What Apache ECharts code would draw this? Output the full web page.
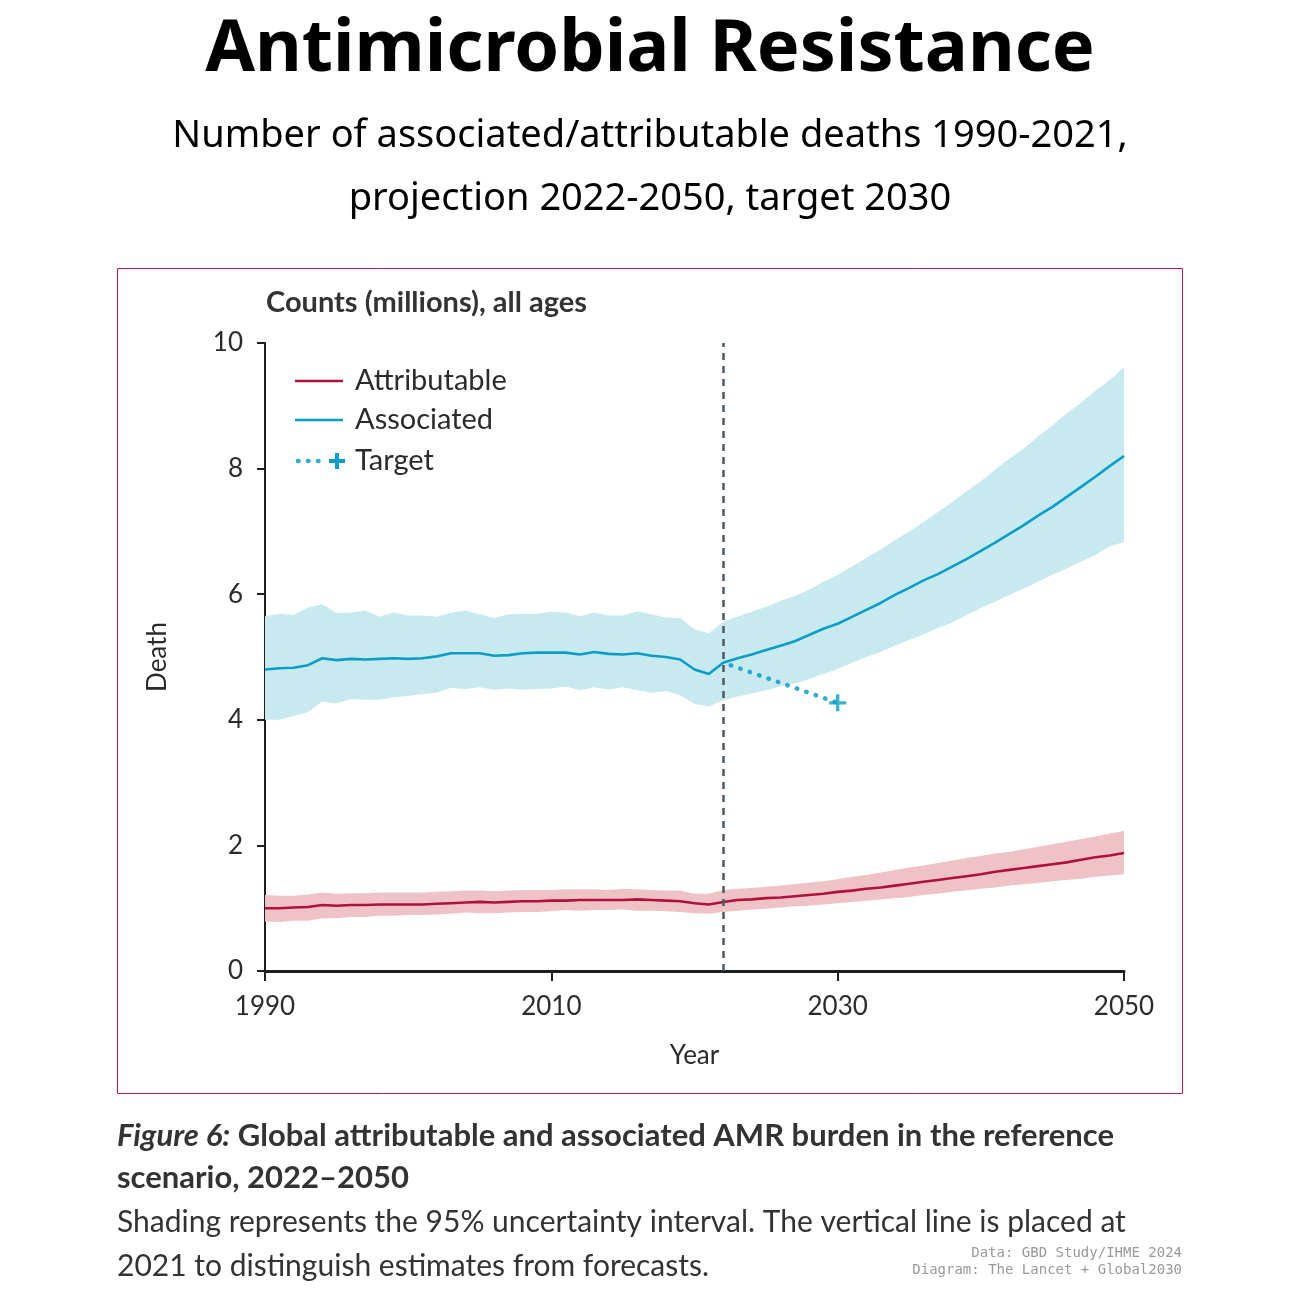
<!DOCTYPE html>
<html>
<head>
<meta charset="utf-8">
<script src="https://cdn.jsdelivr.net/npm/echarts@6/dist/echarts.min.js"></script>
<style>
html,body{margin:0;padding:0;background:#fff;}
#chart{width:1300px;height:1300px;}
</style>
</head>
<body>
<div id="chart"></div>
<script>
// ---------- DATA ----------
const years = [1990,1991,1992,1993,1994,1995,1996,1997,1998,1999,2000,2001,2002,2003,2004,2005,2006,2007,2008,2009,2010,2011,2012,2013,2014,2015,2016,2017,2018,2019,2020,2021,
  2022,2023,2024,2025,2026,2027,2028,2029,2030,2031,2032,2033,2034,2035,2036,2037,2038,2039,2040,2041,2042,2043,2044,2045,2046,2047,2048,2049,2050];

// Associated deaths (millions)
const associatedMid = [4.80,4.82,4.83,4.87,4.98,4.95,4.97,4.96,4.97,4.98,4.97,4.98,5.01,5.06,5.06,5.06,5.02,5.03,5.06,5.07,5.07,5.07,5.04,5.08,5.05,5.04,5.06,5.02,5.00,4.96,4.80,4.73,
  4.91,4.98,5.04,5.11,5.18,5.25,5.35,5.45,5.53,5.64,5.75,5.86,5.99,6.10,6.22,6.32,6.44,6.56,6.69,6.82,6.96,7.10,7.25,7.39,7.55,7.71,7.87,8.04,8.20];
const associatedUpper = [5.65,5.69,5.67,5.79,5.84,5.70,5.71,5.74,5.64,5.71,5.66,5.66,5.64,5.71,5.74,5.68,5.62,5.68,5.69,5.69,5.72,5.71,5.65,5.71,5.66,5.66,5.73,5.68,5.63,5.62,5.44,5.38,
  5.56,5.64,5.72,5.80,5.89,5.97,6.07,6.20,6.31,6.44,6.58,6.71,6.86,7.00,7.15,7.31,7.47,7.64,7.80,7.98,8.16,8.32,8.51,8.69,8.88,9.05,9.24,9.41,9.61];
const associatedLower = [4.00,4.00,4.06,4.12,4.29,4.26,4.33,4.32,4.32,4.36,4.38,4.41,4.43,4.51,4.49,4.52,4.48,4.50,4.48,4.49,4.50,4.53,4.47,4.52,4.48,4.52,4.47,4.43,4.46,4.39,4.25,4.21,
  4.31,4.37,4.42,4.47,4.53,4.58,4.65,4.73,4.81,4.91,5.00,5.08,5.18,5.27,5.36,5.46,5.55,5.67,5.78,5.88,5.99,6.09,6.20,6.31,6.41,6.52,6.62,6.76,6.83];

// Attributable deaths (millions)
const attributableMid = [1.00,1.00,1.01,1.02,1.05,1.04,1.05,1.05,1.06,1.06,1.06,1.06,1.07,1.08,1.09,1.10,1.09,1.10,1.11,1.11,1.12,1.12,1.13,1.13,1.13,1.13,1.14,1.13,1.12,1.11,1.08,1.06,
  1.10,1.13,1.14,1.16,1.17,1.19,1.21,1.23,1.26,1.28,1.31,1.33,1.36,1.39,1.42,1.45,1.48,1.51,1.54,1.58,1.61,1.64,1.67,1.70,1.73,1.77,1.81,1.84,1.88];
const attributableUpper = [1.21,1.20,1.20,1.22,1.25,1.23,1.24,1.24,1.25,1.25,1.25,1.25,1.26,1.27,1.28,1.28,1.27,1.28,1.29,1.29,1.29,1.30,1.30,1.30,1.29,1.31,1.30,1.29,1.28,1.28,1.23,1.23,
  1.29,1.31,1.32,1.34,1.36,1.38,1.41,1.43,1.46,1.50,1.53,1.57,1.61,1.65,1.68,1.72,1.76,1.80,1.83,1.87,1.90,1.94,1.98,2.02,2.06,2.10,2.14,2.19,2.23];
const attributableLower = [0.79,0.78,0.80,0.80,0.84,0.84,0.86,0.86,0.88,0.88,0.89,0.89,0.90,0.91,0.93,0.92,0.92,0.93,0.94,0.94,0.95,0.97,0.96,0.97,0.97,0.98,0.96,0.96,0.95,0.94,0.92,0.91,
  0.94,0.96,0.98,0.99,1.01,1.03,1.04,1.06,1.08,1.10,1.12,1.14,1.16,1.18,1.21,1.23,1.26,1.28,1.31,1.33,1.36,1.38,1.40,1.43,1.45,1.47,1.50,1.52,1.54];

// Target path 2022 -> 2030
const targetYears = [2022, 2030];
const targetValues = [4.91, 4.27];

const splitYear = 2022;
const xTickValues = [1990, 2010, 2030, 2050];

// ---------- COLOURS ----------
const C_ATTR = '#b1103b', C_ATTR_BAND = '#efc3c5';
const C_ASSOC = '#0a9ec7', C_ASSOC_BAND = '#c9e9f0';
const C_TEXT = '#2b2b2b';

const pairs = (vals) => years.map((y, i) => [y, vals[i]]);

// uncertainty band as a polygon drawn through the axes' scales
function bandSeries(lower, upper, color) {
  const data = years.map((y, i) => [y, lower[i], upper[i]]);
  return {
    type: 'custom', silent: true, z: 1,
    encode: {x: 0, y: [1, 2]},
    data: data,
    renderItem: function (params, api) {
      if (params.dataIndex !== 0) return null;
      const top = data.map(d => api.coord([d[0], d[2]]));
      const bot = data.slice().reverse().map(d => api.coord([d[0], d[1]]));
      return {type: 'polygon', shape: {points: top.concat(bot)}, style: {fill: color}};
    }
  };
}

const chart = echarts.init(document.getElementById('chart'), null, {renderer: 'canvas'});
const LATO = 'Lato';
const plusPath = 'path://M4,0H6V4H10V6H6V10H4V6H0V4H4Z';

const option = {
  backgroundColor: '#fff',
  animation: false,
  grid: {left: 265, right: 176, top: 343, bottom: 329, containLabel: false},
  xAxis: {
    type: 'value', min: 1990, max: 2050,
    name: 'Year', nameLocation: 'middle', nameGap: 72,
    nameTextStyle: {fontFamily: LATO, fontSize: 26, color: C_TEXT},
    axisLine: {show: true, onZero: false, lineStyle: {color: '#1e1e1e', width: 3}},
    axisTick: {show: true, length: 10, lineStyle: {color: '#1e1e1e', width: 2}, customValues: xTickValues},
    axisLabel: {fontFamily: LATO, fontSize: 26, color: C_TEXT, margin: 23, customValues: xTickValues, formatter: v => String(v)},
    splitLine: {show: false}
  },
  yAxis: {
    type: 'value', min: 0, max: 10, interval: 2,
    name: 'Death', nameLocation: 'middle', nameGap: 94, nameRotate: 90,
    nameTextStyle: {fontFamily: LATO, fontSize: 26, color: C_TEXT},
    axisLine: {show: true, lineStyle: {color: '#1e1e1e', width: 2}},
    axisTick: {show: true, length: 8, lineStyle: {color: '#1e1e1e', width: 2}},
    axisLabel: {fontFamily: LATO, fontSize: 26, color: C_TEXT, margin: 22},
    splitLine: {show: false}
  },
  series: [
    bandSeries(associatedLower, associatedUpper, C_ASSOC_BAND),
    bandSeries(attributableLower, attributableUpper, C_ATTR_BAND),
    {type: 'line', name: 'Attributable', data: pairs(attributableMid), symbol: 'none',
      lineStyle: {color: C_ATTR, width: 2.6}, z: 3},
    {type: 'line', name: 'Associated', data: pairs(associatedMid), symbol: 'none',
      lineStyle: {color: C_ASSOC, width: 2.6}, z: 3,
      markLine: {silent: true, symbol: 'none', label: {show: false},
        lineStyle: {color: '#4a5b66', width: 2.5, type: [7, 6]},
        data: [{xAxis: splitYear}], z: 5}},
    {type: 'line', name: 'Target', data: targetYears.map((y, i) => [y, targetValues[i]]), symbol: 'none',
      lineStyle: {color: C_ASSOC, width: 4.5, type: [0.5, 9.5], dashOffset: -8, cap: 'round', opacity: 0.85}, z: 4},
    {type: 'scatter', name: 'TargetMark', data: [[targetYears[1], targetValues[1]]], symbol: plusPath, symbolSize: 17,
      itemStyle: {color: C_ASSOC}, z: 6}
  ],
  graphic: [
    {type: 'rect', shape: {x: 117.5, y: 268.5, width: 1065, height: 825}, style: {fill: 'none', stroke: '#c8174b', lineWidth: 1}, z: 0, silent: true},
    {type: 'text', x: 650, y: 50, style: {text: 'Antimicrobial Resistance', fontFamily: 'Noto Sans', fontWeight: 'bold', fontSize: 72, fill: '#000', align: 'center', verticalAlign: 'middle'}},
    {type: 'text', x: 650, y: 136, style: {text: 'Number of associated/attributable deaths 1990-2021,', fontFamily: 'Noto Sans', fontSize: 38, fill: '#000', align: 'center', verticalAlign: 'middle'}},
    {type: 'text', x: 650, y: 199, style: {text: 'projection 2022-2050, target 2030', fontFamily: 'Noto Sans', fontSize: 38, fill: '#000', align: 'center', verticalAlign: 'middle'}},
    {type: 'text', x: 266, y: 303, style: {text: 'Counts (millions), all ages', fontFamily: LATO, fontWeight: 'bold', fontSize: 29, fill: '#333', align: 'left', verticalAlign: 'middle'}},
    {type: 'line', shape: {x1: 295, y1: 381, x2: 343, y2: 381}, style: {stroke: C_ATTR, lineWidth: 2.6}},
    {type: 'text', x: 355, y: 381, style: {text: 'Attributable', fontFamily: LATO, fontSize: 29, fill: C_TEXT, align: 'left', verticalAlign: 'middle'}},
    {type: 'line', shape: {x1: 295, y1: 420, x2: 343, y2: 420}, style: {stroke: C_ASSOC, lineWidth: 2.6}},
    {type: 'text', x: 355, y: 420, style: {text: 'Associated', fontFamily: LATO, fontSize: 29, fill: C_TEXT, align: 'left', verticalAlign: 'middle'}},
    {type: 'line', shape: {x1: 298, y1: 461, x2: 320, y2: 461}, style: {stroke: C_ASSOC, lineWidth: 4.5, lineDash: [0.5, 9.5], lineCap: 'round', opacity: 0.85}},
    {type: 'rect', shape: {x: 335, y: 453, width: 4, height: 16}, style: {fill: C_ASSOC}},
    {type: 'rect', shape: {x: 329, y: 459, width: 16, height: 4}, style: {fill: C_ASSOC}},
    {type: 'text', x: 355, y: 461, style: {text: 'Target', fontFamily: LATO, fontSize: 29, fill: C_TEXT, align: 'left', verticalAlign: 'middle'}},
    {type: 'text', x: 117, y: 1136, style: {
      text: '{i|Figure 6:}{b| Global attributable and associated AMR burden in the reference}',
      rich: {i: {fontFamily: LATO, fontStyle: 'italic', fontWeight: 'bold', fontSize: 31, fill: '#333'},
             b: {fontFamily: LATO, fontWeight: 'bold', fontSize: 31, fill: '#333'}},
      align: 'left', verticalAlign: 'middle'}},
    {type: 'text', x: 117, y: 1178, style: {text: 'scenario, 2022\u20132050', fontFamily: LATO, fontWeight: 'bold', fontSize: 31, fill: '#333', align: 'left', verticalAlign: 'middle'}},
    {type: 'text', x: 117, y: 1222, style: {text: 'Shading represents the 95% uncertainty interval. The vertical line is placed at', fontFamily: LATO, fontSize: 30, fill: '#333', align: 'left', verticalAlign: 'middle'}},
    {type: 'text', x: 117, y: 1266, style: {text: '2021 to distinguish estimates from forecasts.', fontFamily: LATO, fontSize: 30, fill: '#333', align: 'left', verticalAlign: 'middle'}},
    {type: 'text', x: 1182, y: 1253, style: {text: 'Data: GBD Study/IHME 2024', fontFamily: 'DejaVu Sans Mono', fontSize: 14, fill: '#999', align: 'right', verticalAlign: 'middle'}},
    {type: 'text', x: 1182, y: 1270, style: {text: 'Diagram: The Lancet + Global2030', fontFamily: 'DejaVu Sans Mono', fontSize: 14, fill: '#999', align: 'right', verticalAlign: 'middle'}}
  ]
};
chart.setOption(option);
</script>
</body>
</html>
